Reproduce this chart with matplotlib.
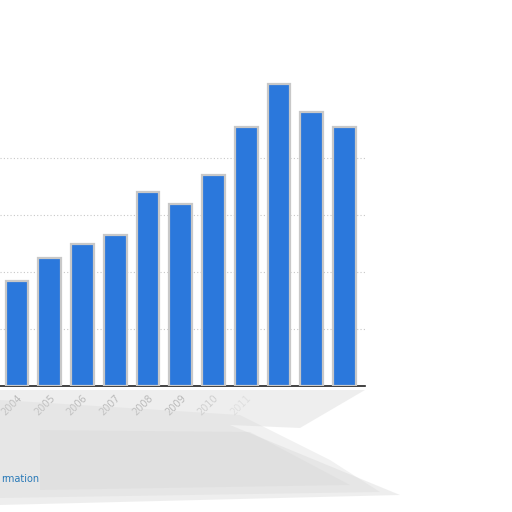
import matplotlib
matplotlib.use("Agg")
import matplotlib.pyplot as plt
from matplotlib.patches import Polygon

years = ["2004", "2005", "2006", "2007", "2008", "2009", "2010", "2011", "2012", "2013", "2014"]
values = [37, 45, 50, 53, 68, 64, 74, 91, 106, 96, 91]
grid_ticks = [20, 40, 60, 80]
footer_text = "rmation"

W = H = 512
fig = plt.figure(figsize=(5.12, 5.12), dpi=100)
fig.patch.set_facecolor("white")

# soft grey shadow area under the chart
layers = [
    ([(0, 390), (365, 390), (300, 428), (230, 425), (400, 495), (0, 505)], "#e4e4e4", 0.6),
    ([(0, 400), (240, 415), (330, 460), (380, 492), (0, 498)], "#d8d8d8", 0.35),
    ([(40, 430), (250, 432), (350, 485), (40, 490)], "#d0d0d0", 0.25),
]
for pts, col, a in layers:
    fig.patches.append(Polygon([(x / W, 1 - y / H) for x, y in pts], closed=True,
                               transform=fig.transFigure, facecolor=col, alpha=a,
                               edgecolor="none", zorder=0))

ax_left, ax_right, ax_top, ax_bottom = 0, 365, 60, 386
ax = fig.add_axes([ax_left / W, 1 - ax_bottom / H, (ax_right - ax_left) / W, (ax_bottom - ax_top) / H])
ax.set_facecolor("none")

unit = 32.75
x0 = 17
ax.set_xlim((ax_left - x0) / unit, (ax_right - x0) / unit)
px_per_val = 57 / 20
ax.set_ylim(0, (ax_bottom - ax_top) / px_per_val)

xs = list(range(len(years)))
ax.bar(xs, values, width=0.69, color="#2b78dc", edgecolor="#c8c8c8", linewidth=1.6, zorder=3)

ax.set_yticks(grid_ticks)
ax.yaxis.grid(True, linestyle=(0, (1, 2)), color="#c8c8c8", linewidth=0.8, zorder=0)
ax.tick_params(axis="y", left=False, labelleft=False)
ax.set_xticks(xs)
ax.set_xticklabels(years, rotation=45, ha="right", rotation_mode="anchor",
                   fontsize=7, color="#7a7a7a")
ax.tick_params(axis="x", length=0, pad=5)
for lbl in ax.get_xticklabels()[8:]:
    lbl.set_visible(False)
for lbl, a in zip(ax.get_xticklabels()[6:8], [0.6, 0.3]):
    lbl.set_alpha(a)

for s in ["top", "right", "left"]:
    ax.spines[s].set_visible(False)
ax.spines["bottom"].set_color("#222222")
ax.spines["bottom"].set_linewidth(1.2)

fig.text(1 / W, 1 - 479 / H, footer_text, ha="left", va="center", fontsize=7,
         color="#2a7ab8")

fig.savefig("out.png", dpi=100)
